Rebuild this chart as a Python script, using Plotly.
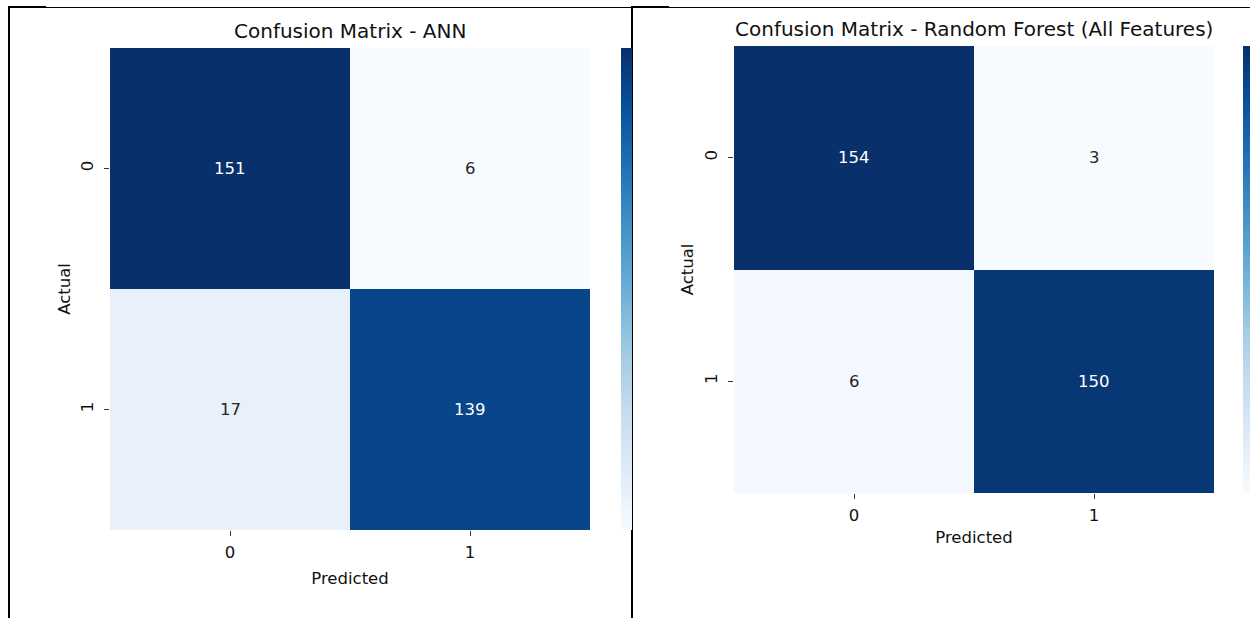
import plotly.graph_objects as go
from plotly.colors import sequential, unlabel_rgb

W, H = 1250, 618

# Class labels and confusion-matrix counts (rows = actual, cols = predicted)
classes = ["0", "1"]
ann_counts = [[151, 6], [17, 139]]
rf_counts = [[154, 3], [6, 150]]
panel_titles = ["Confusion Matrix - ANN", "Confusion Matrix - Random Forest (All Features)"]

FONT = "DejaVu Sans"
DARK = "#262626"
blues = sequential.Blues
blues_rgb = [unlabel_rgb(c) for c in blues]
colorscale = [[i / (len(blues) - 1), c] for i, c in enumerate(blues)]


def color_at(t):
    t = min(max(t, 0.0), 1.0) * (len(blues_rgb) - 1)
    i = min(int(t), len(blues_rgb) - 2)
    f = t - i
    a, b = blues_rgb[i], blues_rgb[i + 1]
    return [a[k] + (b[k] - a[k]) * f for k in range(3)]


def luminance(rgb):
    vals = []
    for c in rgb:
        c = c / 255.0
        vals.append(c / 12.92 if c <= 0.03928 else ((c + 0.055) / 1.055) ** 2.4)
    return 0.2126 * vals[0] + 0.7152 * vals[1] + 0.0722 * vals[2]


# Pixel boxes of each heatmap: (left, top, right, bottom), colorbar left edge, thickness
panels = [
    dict(counts=ann_counts, box=(110, 48, 590, 530), cb_x=621, cb_w=11,
         title_y=31, xt_standoff=2, xtitle_standoff=11, yt_standoff=4, ytitle_standoff=3),
    dict(counts=rf_counts, box=(734, 46, 1214, 493), cb_x=1243, cb_w=12,
         title_y=29, xt_standoff=2, xtitle_standoff=7, yt_standoff=4, ytitle_standoff=4),
]

fig = go.Figure()
annotations = []
layout_axes = {}

for k, p in enumerate(panels):
    n = "" if k == 0 else str(k + 1)
    L, T, R, B = p["box"]
    z = p["counts"]
    flat = [v for row in z for v in row]
    zmin, zmax = min(flat), max(flat)

    fig.add_trace(go.Heatmap(
        z=z, x=[0, 1], y=[0, 1],
        colorscale=colorscale, zmin=zmin, zmax=zmax,
        xaxis="x" + n, yaxis="y" + n,
        hoverinfo="skip",
        colorbar=dict(
            x=p["cb_x"] / W, xanchor="left", xref="paper", xpad=0,
            y=1 - T / H, yanchor="top", yref="paper", ypad=0,
            len=(B - T) / H, lenmode="fraction",
            thickness=p["cb_w"], thicknessmode="pixels",
            outlinewidth=0, showticklabels=False, ticks="",
        ),
    ))

    for i, row in enumerate(z):
        for j, v in enumerate(row):
            lum = luminance(color_at((v - zmin) / (zmax - zmin)))
            annotations.append(dict(
                x=j, y=i, xref="x" + n, yref="y" + n, text=str(v), showarrow=False,
                font=dict(family=FONT, size=16.5, color=DARK if lum > 0.408 else "white"),
            ))

    annotations.append(dict(
        x=(L + R) / 2 / W, y=1 - p["title_y"] / H, xref="paper", yref="paper",
        text=panel_titles[k], showarrow=False, xanchor="center", yanchor="middle",
        font=dict(family=FONT, size=20, color="#111"),
    ))

    tick_common = dict(
        tickvals=[0, 1], ticktext=classes, ticks="outside", ticklen=5, tickwidth=1.3,
        tickcolor="#333", showgrid=False, zeroline=False, showline=False,
        tickfont=dict(family=FONT, size=16.5, color="#111"),
    )
    layout_axes["xaxis" + n] = dict(
        domain=[L / W, R / W], range=[-0.5, 1.5], anchor="y" + n,
        ticklabelstandoff=p["xt_standoff"],
        title=dict(text="Predicted", standoff=p["xtitle_standoff"],
                   font=dict(family=FONT, size=16.5, color="#111")),
        **tick_common,
    )
    layout_axes["yaxis" + n] = dict(
        domain=[1 - B / H, 1 - T / H], range=[1.5, -0.5], anchor="x" + n,
        tickangle=-90, ticklabelstandoff=p["yt_standoff"],
        title=dict(text="Actual", standoff=p["ytitle_standoff"],
                   font=dict(family=FONT, size=16.5, color="#111")),
        **tick_common,
    )

# Frame lines around the two panels
def hline(x0, x1, y, w):
    return dict(type="line", xref="paper", yref="paper", x0=x0 / W, x1=x1 / W,
                y0=1 - y / H, y1=1 - y / H, line=dict(color="black", width=w), layer="above")


def vline(x, y0, y1, w):
    return dict(type="line", xref="paper", yref="paper", x0=x / W, x1=x / W,
                y0=1 - y0 / H, y1=1 - y1 / H, line=dict(color="black", width=w), layer="above")


shapes = [
    hline(8, 1250, 7.5, 1),
    hline(8, 46, 7, 2),
    hline(631, 669, 7, 2),
    vline(9, 6, 618, 2),
    vline(632, 6, 618, 2),
]

fig.update_layout(
    width=W, height=H,
    margin=dict(l=0, r=0, t=0, b=0, pad=0, autoexpand=False),
    paper_bgcolor="white", plot_bgcolor="white",
    showlegend=False,
    annotations=annotations,
    shapes=shapes,
    font=dict(family=FONT, color="#111"),
    **layout_axes,
)

fig.write_html("out.html")
